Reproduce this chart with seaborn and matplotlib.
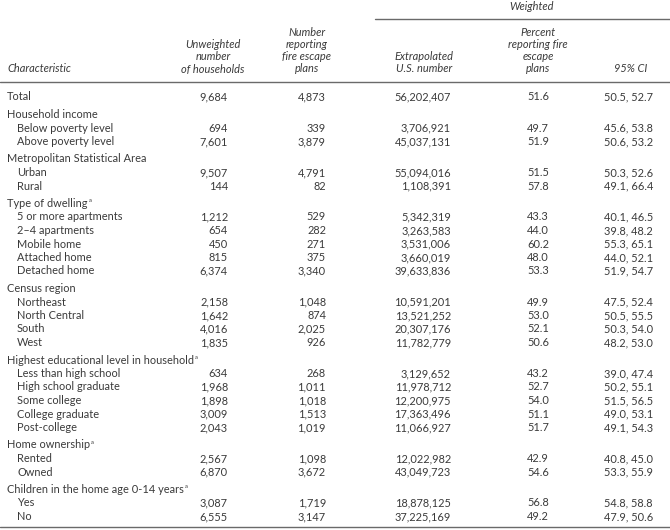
import matplotlib
matplotlib.use("Agg")
import matplotlib.pyplot as plt
import seaborn as sns

# Table data
labels = ["Total",
          "Household income", "Below poverty level", "Above poverty level",
          "Metropolitan Statistical Area", "Urban", "Rural",
          "Type of dwelling", "5 or more apartments", "2\u20134 apartments", "Mobile home",
          "Attached home", "Detached home",
          "Census region", "Northeast", "North Central", "South", "West",
          "Highest educational level in household", "Less than high school",
          "High school graduate", "Some college", "College graduate", "Post-college",
          "Home ownership", "Rented", "Owned",
          "Children in the home age 0-14 years", "Yes", "No"]
row_kind = ["total",
            "group", "item", "item",
            "group", "item", "item",
            "group", "item", "item", "item", "item", "item",
            "group", "item", "item", "item", "item",
            "group", "item", "item", "item", "item", "item",
            "group", "item", "item",
            "group", "item", "item"]
footnote = ["Type of dwelling", "Highest educational level in household",
            "Home ownership", "Children in the home age 0-14 years"]

unweighted = [9684,
              None, 694, 7601,
              None, 9507, 144,
              None, 1212, 654, 450, 815, 6374,
              None, 2158, 1642, 4016, 1835,
              None, 634, 1968, 1898, 3009, 2043,
              None, 2567, 6870,
              None, 3087, 6555]
reporting = [4873,
             None, 339, 3879,
             None, 4791, 82,
             None, 529, 282, 271, 375, 3340,
             None, 1048, 874, 2025, 926,
             None, 268, 1011, 1018, 1513, 1019,
             None, 1098, 3672,
             None, 1719, 3147]
extrapolated = [56202407,
                None, 3706921, 45037131,
                None, 55094016, 1108391,
                None, 5342319, 3263583, 3531006, 3660019, 39633836,
                None, 10591201, 13521252, 20307176, 11782779,
                None, 3129652, 11978712, 12200975, 17363496, 11066927,
                None, 12022982, 43049723,
                None, 18878125, 37225169]
percent = [51.6,
           None, 49.7, 51.9,
           None, 51.5, 57.8,
           None, 43.3, 44.0, 60.2, 48.0, 53.3,
           None, 49.9, 53.0, 52.1, 50.6,
           None, 43.2, 52.7, 54.0, 51.1, 51.7,
           None, 42.9, 54.6,
           None, 56.8, 49.2]
ci_low = [50.5,
          None, 45.6, 50.6,
          None, 50.3, 49.1,
          None, 40.1, 39.8, 55.3, 44.0, 51.9,
          None, 47.5, 50.5, 50.3, 48.2,
          None, 39.0, 50.2, 51.5, 49.0, 49.1,
          None, 40.8, 53.3,
          None, 54.8, 47.9]
ci_high = [52.7,
           None, 53.8, 53.2,
           None, 52.6, 66.4,
           None, 46.5, 48.2, 65.1, 52.1, 54.7,
           None, 52.4, 55.5, 54.0, 53.0,
           None, 47.4, 55.1, 56.5, 53.1, 54.3,
           None, 45.0, 55.9,
           None, 58.8, 50.6]

headers = [["Unweighted", "number", "of households"],
           ["Number", "reporting", "fire escape", "plans"],
           ["Extrapolated", "U.S. number"],
           ["Percent", "reporting fire", "escape", "plans"],
           ["95% CI"]]

sns.set_theme(style="white")
plt.rcParams["font.family"] = ["Lato", "DejaVu Sans"]

TXT = "#3a3a3a"
RULE = "#6a6a6a"
FS = 7.9

fig = plt.figure(figsize=(6.7, 5.3), dpi=100)
ax = fig.add_axes([0, 0, 1, 1])
ax.set_xlim(0, 670)
ax.set_ylim(530, 0)
ax.axis("off")

# header
ax.text(532, 7, "Weighted", ha="center", va="center", style="italic", fontsize=FS, color=TXT)
ax.plot([375, 670], [18.5, 18.5], color=RULE, lw=1)
ax.text(7, 69, "Characteristic", ha="left", va="center", style="italic", fontsize=FS, color=TXT)
head_x = [213, 307, 424, 538, 631]
head_lines = [32, 44.5, 57, 69]
for hx, lines in zip(head_x, headers):
    start = 4 - len(lines)
    for i, line in enumerate(lines):
        ax.text(hx, head_lines[start + i], line, ha="center", va="center",
                style="italic", fontsize=FS, color=TXT)
ax.plot([0, 670], [82, 82], color=RULE, lw=1)

# body
col_right = [228, 326, 451, 549, 653]
step, gap = 13.5, 4
y = 97
fig.canvas.draw()
renderer = fig.canvas.get_renderer()
for i, lab in enumerate(labels):
    if row_kind[i] == "group":
        y += gap
    x0 = 17 if row_kind[i] == "item" else 7
    t = ax.text(x0, y, lab, ha="left", va="center", fontsize=FS, color=TXT)
    if lab in footnote:
        bb = t.get_window_extent(renderer=renderer)
        xa = ax.transData.inverted().transform((bb.x1, 0))[0]
        ax.text(xa + 1, y - 2.5, "a", ha="left", va="center", fontsize=4.2, color=TXT)
    if unweighted[i] is not None:
        vals = [f"{unweighted[i]:,}", f"{reporting[i]:,}", f"{extrapolated[i]:,}",
                f"{percent[i]:.1f}", f"{ci_low[i]:.1f}, {ci_high[i]:.1f}"]
        for xr, v in zip(col_right, vals):
            ax.text(xr, y, v, ha="right", va="center", fontsize=FS, color=TXT)
    y += step

ax.plot([0, 670], [y - step + 10, y - step + 10], color=RULE, lw=1)

fig.savefig("out.png", dpi=100)
